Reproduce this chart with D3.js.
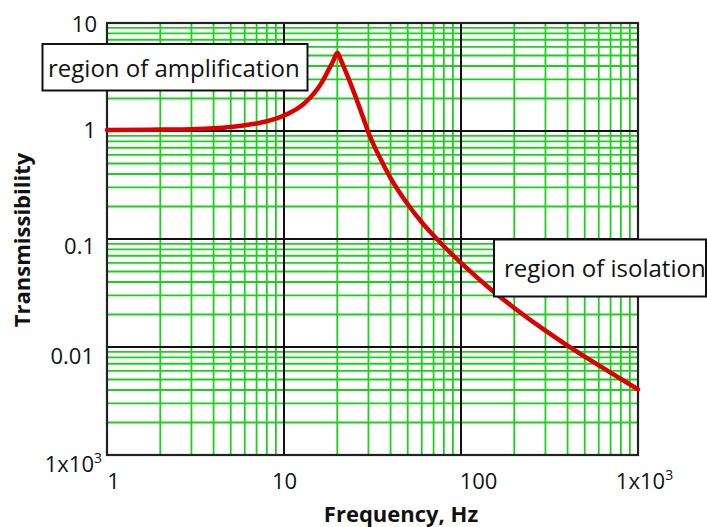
<!DOCTYPE html>
<html><head><meta charset="utf-8">
<script src="https://cdn.jsdelivr.net/npm/d3@7"></script>
<style>
html,body{margin:0;padding:0;background:#fff;}
svg{display:block;font-family:"Open Sans",sans-serif;}
</style>
</head><body>
<svg id="chart" width="707" height="527"></svg>
<script>
// ---- data ----
const freqHz = [1, 2, 3, 4, 5, 6, 7, 8, 9, 10, 11, 12, 13, 14, 15, 16, 17, 18, 19, 20,
                21, 22, 25, 28, 30, 35, 40, 50, 60, 70, 80, 90, 100, 150, 200, 300, 400, 500, 700, 1000];
const transmissibility = [1.02, 1.03, 1.04, 1.06, 1.09, 1.13, 1.175, 1.23, 1.30, 1.39, 1.50, 1.63, 1.80, 2.02, 2.30, 2.66, 3.15, 3.78, 4.48, 5.3,
                4.50, 3.77, 2.22, 1.33, 0.966, 0.555, 0.366, 0.210, 0.143, 0.1076, 0.0857, 0.0708, 0.0601, 0.0334, 0.0230, 0.01416, 0.0103, 0.00815, 0.00578, 0.00405];
const xTickValues = [1, 10, 100, 1000];
const xTickBase = ["1", "10", "100", "1x10"];
const xTickSup = ["", "", "", "3"];
const yTickValues = [10, 1, 0.1, 0.01, 0.001];
const yTickBase = ["10", "1", "0.1", "0.01", "1x10"];
const yTickSup = ["", "", "", "", "3"];
const xTitle = "Frequency, Hz";
const yTitle = "Transmissibility";
const noteTexts = ["region of amplification", "region of isolation"];

// ---- layout ----
const plot = {left: 107, right: 638, top: 23, bottom: 455};
const svg = d3.select("#chart");
const x = d3.scaleLog().domain([1, 1000]).range([plot.left, plot.right]);
const y = d3.scaleLog().domain([0.001, 10]).range([plot.bottom, plot.top]);

// minor grid positions (2..9 within each decade)
function minors(lo, hi) {
  const out = [];
  for (let d = lo; d < hi; d *= 10) for (let k = 2; k <= 9; k++) out.push(d * k);
  return out;
}
const gGrid = svg.append("g");
gGrid.selectAll("line.vx").data(minors(1, 1000)).join("line")
  .attr("x1", d => x(d)).attr("x2", d => x(d))
  .attr("y1", plot.top).attr("y2", plot.bottom)
  .attr("stroke", "#1ed01e").attr("stroke-width", 1.8);
gGrid.selectAll("line.hy").data(minors(0.001, 10)).join("line")
  .attr("y1", d => y(d)).attr("y2", d => y(d))
  .attr("x1", plot.left).attr("x2", plot.right)
  .attr("stroke", "#1ed01e").attr("stroke-width", 1.8);

// major (decade) grid
gGrid.selectAll("line.mx").data([10, 100]).join("line")
  .attr("x1", d => x(d)).attr("x2", d => x(d))
  .attr("y1", plot.top).attr("y2", plot.bottom)
  .attr("stroke", "#111").attr("stroke-width", 2);
gGrid.selectAll("line.my").data([1, 0.1, 0.01]).join("line")
  .attr("y1", d => y(d)).attr("y2", d => y(d))
  .attr("x1", plot.left).attr("x2", plot.right)
  .attr("stroke", "#111").attr("stroke-width", 2);

// frame
svg.append("rect")
  .attr("x", plot.left).attr("y", plot.top)
  .attr("width", plot.right - plot.left).attr("height", plot.bottom - plot.top)
  .attr("fill", "none").attr("stroke", "#222").attr("stroke-width", 2.2);

// curve
const pts = freqHz.map((f, i) => ({f, t: transmissibility[i]}));
svg.append("path").datum(pts)
  .attr("fill", "none").attr("stroke", "#dd0000").attr("stroke-width", 4.5)
  .attr("stroke-linejoin", "round").attr("stroke-linecap", "round")
  .attr("d", d3.line().x(d => x(d.f)).y(d => y(d.t)).curve(d3.curveMonotoneX));

// x axis labels
const xAxis = svg.append("g").attr("transform", `translate(0,${plot.bottom})`)
  .call(d3.axisBottom(x).tickValues(xTickValues).tickSize(0).tickFormat((d, i) => xTickBase[i]));
xAxis.select(".domain").remove();
const xNudge = [6, 0, 17, 6];
xAxis.selectAll(".tick text")
  .attr("font-family", "Open Sans").attr("font-size", 22).attr("fill", "#111")
  .attr("y", 34.3).attr("dy", 0).attr("x", (d, i) => xNudge[i])
  .each(function(d, i) {
    if (xTickSup[i]) d3.select(this).append("tspan").attr("font-size", 14).attr("dy", -9).text(xTickSup[i]);
  });

// y axis labels
const yAxis = svg.append("g").attr("transform", `translate(${plot.left},0)`)
  .call(d3.axisLeft(y).tickValues(yTickValues).tickSize(0).tickFormat((d, i) => yTickBase[i]));
yAxis.select(".domain").remove();
const yEnd = [-10, -11, -12, -13, -5];
const yShift = [8.5, 6, 14.3, 16.3, 16.7];
yAxis.selectAll(".tick text")
  .attr("font-family", "Open Sans").attr("font-size", 22).attr("fill", "#111")
  .attr("text-anchor", "end").attr("x", (d, i) => yEnd[i]).attr("dy", 0).attr("y", (d, i) => yShift[i])
  .each(function(d, i) {
    if (yTickSup[i]) d3.select(this).append("tspan").attr("font-size", 14).attr("dy", -9).text(yTickSup[i]);
  });

// axis titles
svg.append("text").attr("x", 401).attr("y", 521.5).attr("text-anchor", "middle")
  .attr("font-size", 22).attr("font-weight", "bold").attr("fill", "#111").text(xTitle);
svg.append("text").attr("transform", "translate(30,240) rotate(-90)").attr("text-anchor", "middle")
  .attr("font-size", 22).attr("font-weight", "bold").attr("fill", "#111").text(yTitle);

// annotation boxes
const boxes = [
  {x: 42.5, y: 44, w: 265, h: 46.5, tx: 48, ty: 76.7},
  {x: 494, y: 239.5, w: 212, h: 57, tx: 504, ty: 276.7}
];
const gNotes = svg.append("g").selectAll("g").data(noteTexts).join("g");
gNotes.append("rect")
  .attr("x", (d, i) => boxes[i].x).attr("y", (d, i) => boxes[i].y)
  .attr("width", (d, i) => boxes[i].w).attr("height", (d, i) => boxes[i].h)
  .attr("fill", "#fff").attr("stroke", "#111").attr("stroke-width", 2);
gNotes.append("text")
  .attr("x", (d, i) => boxes[i].tx).attr("y", (d, i) => boxes[i].ty)
  .attr("font-size", 24).attr("fill", "#111").text(d => d);
</script>
</body></html>
